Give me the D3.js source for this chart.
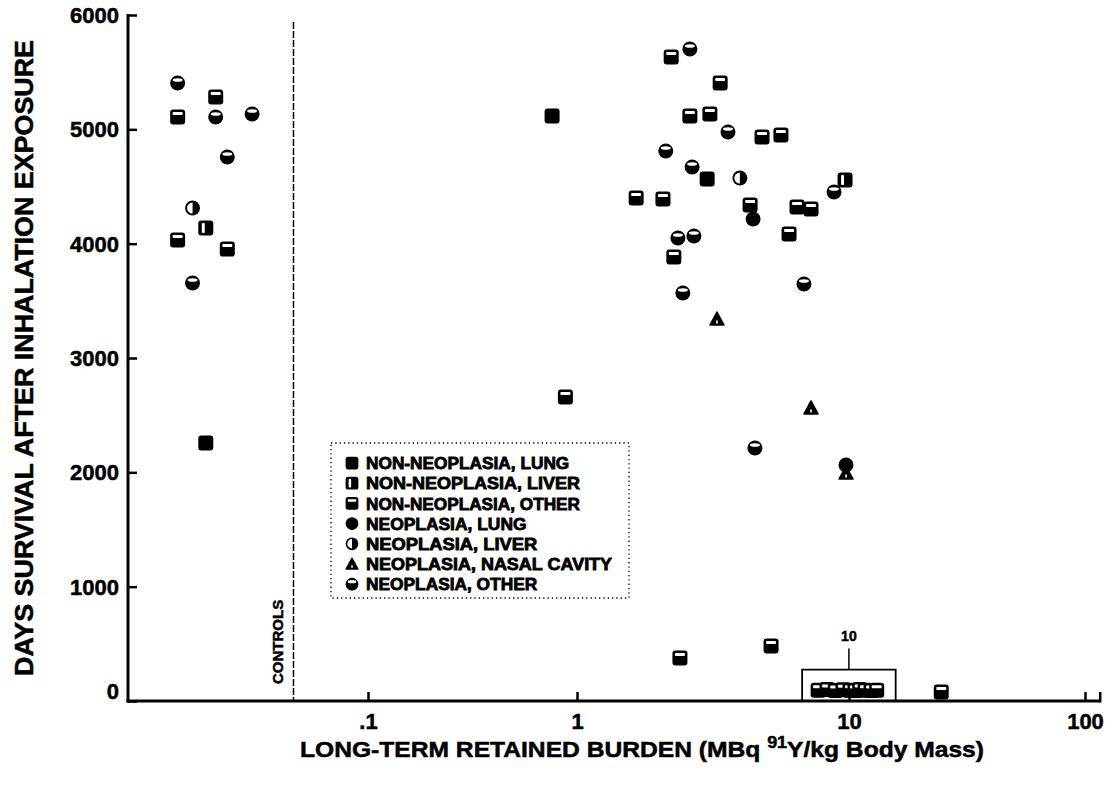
<!DOCTYPE html>
<html>
<head>
<meta charset="utf-8">
<script src="https://cdnjs.cloudflare.com/ajax/libs/d3/7.8.5/d3.min.js"></script>
<style>
  body { margin: 0; background: #fff; }
  svg text { font-family: "Liberation Sans", Arial, sans-serif; font-weight: bold; fill: #000; stroke: #000; stroke-width: 0.5px; }
  svg .row text { stroke-width: 0.8px; }
</style>
</head>
<body>
<svg class="chart" width="1112" height="786"></svg>
<script>
// controls (plotted left of the dashed line, x is just a spread position 0-10)
var ctrlPos  = [3.0, 3.0, 5.3, 5.3, 7.5, 6.0, 3.9, 4.7, 3.0, 6.0, 3.9, 4.7];
var ctrlDays = [5405, 5108, 5283, 5108, 5134, 4758, 4312, 4137, 4032, 3953, 3656, 2257];
var ctrlType = ["nOther", "nnOther", "nnOther", "nOther", "nOther", "nOther", "nLiver", "nnLiver", "nnOther", "nnOther", "nOther", "nnLung"];

// exposed animals: burden (MBq 91Y/kg) vs days survival
var burden = [0.76, 2.22, 2.60, 3.36, 2.60, 3.08, 3.59, 4.79, 5.62, 2.12,
              2.65, 3.01, 3.97, 9.67, 8.81, 1.65, 2.07, 4.33, 4.44, 6.44,
              7.25, 2.35, 2.69, 6.02, 2.27, 2.45, 6.83, 3.27, 0.88, 7.25,
              4.51, 9.75, 9.75, 2.39, 5.17, 24.6];
var days = [5117, 5633, 5703, 5405, 5117, 5134, 4977, 4933, 4951, 4811,
            4671, 4566, 4574, 4557, 4452, 4399, 4391, 4338, 4216, 4321,
            4303, 4050, 4067, 4085, 3883, 3569, 3647, 3341, 2659, 2563,
            2213, 2064, 1994, 376, 481, 79];
var type = ["nnLung", "nnOther", "nOther", "nnOther", "nnOther", "nnOther", "nOther", "nnOther", "nnOther", "nOther",
            "nOther", "nnLung", "nLiver", "nnLiver", "nOther", "nnOther", "nnOther", "nnOther", "nLung", "nnOther",
            "nnOther", "nOther", "nOther", "nnOther", "nnOther", "nOther", "nOther", "nNasal", "nnOther", "nNasal",
            "nOther", "nLung", "nNasal", "nnOther", "nnOther", "nnOther"];

// the boxed group of 10 animals near 10 MBq/kg
var groupBurden = [7.7, 8.3, 8.9, 9.5, 10.1, 10.6, 11.1, 11.7, 12.4, 13.1];
var groupDays   = [95, 100, 92, 98, 95, 92, 100, 95, 92, 95];
var groupLabel  = "10";

var yTicks = [0, 1000, 2000, 3000, 4000, 5000, 6000];
var xTicks = [0.1, 1, 10, 100];
var xTickLabels = [".1", "1", "10", "100"];
var controlEdge = 0.044;   // burden where the controls band ends
var xAxisEnd = 116;

var legendTypes  = ["nnLung", "nnLiver", "nnOther", "nLung", "nLiver", "nNasal", "nOther"];
var legendLabels = ["NON-NEOPLASIA, LUNG", "NON-NEOPLASIA, LIVER", "NON-NEOPLASIA, OTHER",
                    "NEOPLASIA, LUNG", "NEOPLASIA, LIVER", "NEOPLASIA, NASAL CAVITY", "NEOPLASIA, OTHER"];

var svg = d3.select(".chart");

var y = d3.scaleLinear().domain([0, 6000]).range([701, 15]);
// the printed log axis has uneven decades, so map log10 values piecewise
var xl = d3.scaleLinear().domain([-1, 0, 1, 2]).range([368, 577, 849, 1085]);
function x(v) { return xl(Math.log10(v)); }
var left = 128;
var cx = d3.scaleLinear().domain([0, 10]).range([left, x(controlEdge)]);

// markers
function drawMarker(g, t) {
  if (t.indexOf("nn") === 0) {
    g.append("rect").attr("x", -7.5).attr("y", -7.5).attr("width", 15).attr("height", 15)
      .attr("rx", 3).attr("fill", "#000");
    if (t === "nnOther") {
      g.append("rect").attr("x", -5).attr("y", -5).attr("width", 10).attr("height", 3)
        .attr("rx", 1).attr("fill", "#fff");
    }
    if (t === "nnLiver") {
      g.append("rect").attr("x", -4).attr("y", -5).attr("width", 3).attr("height", 10)
        .attr("rx", 1).attr("fill", "#fff");
    }
  } else if (t === "nNasal") {
    g.append("path").attr("d", "M0,-7 L7,6 L-7,6 Z").attr("fill", "#000")
      .attr("stroke", "#000").attr("stroke-width", 1.5).attr("stroke-linejoin", "round");
    g.append("rect").attr("x", -0.8).attr("y", 1.5).attr("width", 1.6).attr("height", 3).attr("fill", "#fff");
  } else {
    g.append("circle").attr("r", 7.5).attr("fill", "#000");
    if (t === "nOther") {
      g.append("ellipse").attr("cx", 0).attr("cy", -3).attr("rx", 5).attr("ry", 1.8).attr("fill", "#fff");
    }
    if (t === "nLiver") {
      g.append("path").attr("d", "M0,-5.5 A5.5,5.5 0 0 0 0,5.5 Z").attr("fill", "#fff");
    }
  }
}

// axes
var yAxis = d3.axisLeft(y).tickValues(yTicks).tickFormat(d3.format("d"))
  .tickSize(-9).tickPadding(9).tickSizeOuter(0);
var gy = svg.append("g").attr("transform", "translate(" + left + ",0)").call(yAxis);
gy.select(".domain").remove();
gy.selectAll(".tick line").attr("stroke", "#000").attr("stroke-width", 2.5);
gy.selectAll(".tick text").style("font-size", "22px").attr("dy", function (d) { return d === 0 ? "-0.12em" : "0.34em"; });

var xAxis = d3.axisBottom(xl).tickValues(xTicks.map(Math.log10))
  .tickFormat(function (d, i) { return xTickLabels[i]; })
  .tickSize(-9).tickPadding(12).tickSizeOuter(0);
var gx = svg.append("g").attr("transform", "translate(0," + y(0) + ")").call(xAxis);
gx.select(".domain").remove();
gx.selectAll(".tick line").attr("stroke", "#000").attr("stroke-width", 2.5);
gx.selectAll(".tick text").style("font-size", "22px");

svg.append("line").attr("x1", left).attr("x2", left).attr("y1", y(6000) - 1).attr("y2", y(0) + 1.5)
  .attr("stroke", "#000").attr("stroke-width", 3);
svg.append("line").attr("x1", left - 1.5).attr("x2", x(xAxisEnd)).attr("y1", y(0)).attr("y2", y(0))
  .attr("stroke", "#000").attr("stroke-width", 3);
svg.append("line").attr("x1", x(xAxisEnd)).attr("x2", x(xAxisEnd)).attr("y1", y(0) + 1.5).attr("y2", y(0) - 9)
  .attr("stroke", "#000").attr("stroke-width", 2.5);

// controls divider
svg.append("line").attr("x1", x(controlEdge)).attr("x2", x(controlEdge))
  .attr("y1", 22).attr("y2", y(0))
  .attr("stroke", "#000").attr("stroke-width", 1.5).attr("stroke-dasharray", "7,2");
svg.append("text")
  .attr("transform", "translate(" + (x(controlEdge) - 10) + "," + (y(0) - 17) + ")rotate(-90)")
  .style("font-size", "15px")
  .text("CONTROLS");

// points
var ctrl = ctrlDays.map(function (d, i) { return { px: cx(ctrlPos[i]), py: y(d), t: ctrlType[i] }; });
var exposed = days.map(function (d, i) { return { px: x(burden[i]), py: y(d), t: type[i] }; });
var group = groupDays.map(function (d, i) { return { px: x(groupBurden[i]), py: y(d), t: "nnOther" }; });

svg.append("g").selectAll("g")
  .data(ctrl.concat(exposed).concat(group))
  .enter().append("g")
  .attr("transform", function (d) { return "translate(" + d.px + "," + d.py + ")"; })
  .each(function (d) { drawMarker(d3.select(this), d.t); });

// box around the 10 overlapping animals
var bx0 = x(d3.min(groupBurden)) - 16, bx1 = x(d3.max(groupBurden)) + 19;
var by0 = y(d3.max(groupDays)) - 20;
svg.append("path")
  .attr("d", "M" + bx0 + "," + y(0) + "V" + by0 + "H" + bx1 + "V" + y(0))
  .attr("fill", "none").attr("stroke", "#000").attr("stroke-width", 1.8);
svg.append("line").attr("x1", (bx0 + bx1) / 2).attr("x2", (bx0 + bx1) / 2)
  .attr("y1", by0).attr("y2", by0 - 21).attr("stroke", "#000").attr("stroke-width", 1.5);
svg.append("text").attr("x", (bx0 + bx1) / 2).attr("y", by0 - 29)
  .attr("text-anchor", "middle").style("font-size", "14px").text(groupLabel);

// legend
var legend = svg.append("g").attr("transform", "translate(331,443)");
legend.append("rect").attr("width", 298).attr("height", 155)
  .attr("fill", "none").attr("stroke", "#000").attr("stroke-width", 1.3).attr("stroke-dasharray", "1.3,3");
var rows = legend.selectAll(".row").data(legendLabels).enter().append("g")
  .attr("class", "row")
  .attr("transform", function (d, i) { return "translate(21," + (20 + i * 20.2) + ")"; });
rows.append("g").attr("transform", "scale(0.85)").each(function (d, i) { drawMarker(d3.select(this), legendTypes[i]); });
rows.append("text").attr("x", 14).attr("dy", "0.36em").style("font-size", "17px")
  .attr("textLength", function (d) { return d.length * 10.7; }).attr("lengthAdjust", "spacingAndGlyphs")
  .text(function (d) { return d; });

// axis titles
svg.append("text")
  .attr("text-anchor", "middle")
  .attr("transform", "translate(33," + 358 + ")rotate(-90)")
  .attr("textLength", 636).attr("lengthAdjust", "spacingAndGlyphs")
  .style("font-size", "25px")
  .text("DAYS SURVIVAL AFTER INHALATION EXPOSURE");

var xt = svg.append("text")
  .attr("text-anchor", "middle")
  .attr("x", 642).attr("y", 757)
  .attr("textLength", 684).attr("lengthAdjust", "spacingAndGlyphs")
  .style("font-size", "22px");
xt.append("tspan").text("LONG-TERM RETAINED BURDEN (MBq ");
xt.append("tspan").attr("dy", -9).style("font-size", "16px").text("91");
xt.append("tspan").attr("dy", 9).text("Y/kg Body Mass)");
</script>
</body>
</html>
